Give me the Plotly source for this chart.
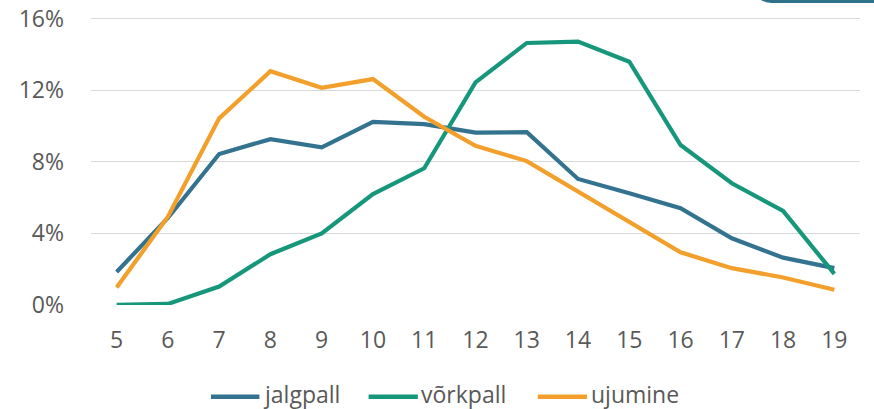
import plotly.graph_objects as go

# Age groups (x axis) and share of participants per sport (%)
ages = [str(a) for a in range(5, 20)]
jalgpall = [1.84, 4.86, 8.44, 9.27, 8.81, 10.24, 10.11, 9.63, 9.66, 7.04, 6.24, 5.40, 3.72, 2.64, 2.05]
vorkpall = [0.0, 0.05, 1.02, 2.83, 4.00, 6.20, 7.64, 12.44, 14.65, 14.73, 13.60, 8.94, 6.80, 5.25, 1.73]
ujumine = [0.97, 4.93, 10.43, 13.07, 12.14, 12.63, 10.52, 8.90, 8.04, 6.35, 4.65, 2.94, 2.05, 1.53, 0.84]

series_names = ["jalgpall", "võrkpall", "ujumine"]
series_values = [jalgpall, vorkpall, ujumine]
series_colors = ["#34738f", "#16977b", "#f2a02b"]

y_ticks = [0, 4, 8, 12, 16]
y_tick_labels = ["0%", "4%", "8%", "12%", "16%"]

TEXT = "#595959"
FONT = "Open Sans"
FSIZE = 23

fig = go.Figure()
for name, vals, col in zip(series_names, series_values, series_colors):
    fig.add_trace(go.Scatter(
        x=ages, y=vals, name=name, mode="lines",
        line=dict(color=col, width=4.2),
        cliponaxis=False, showlegend=False,
    ))

fig.update_layout(
    width=874, height=409,
    margin=dict(l=91, r=14, t=14, b=104),
    paper_bgcolor="white", plot_bgcolor="white",
    font=dict(family=FONT, color=TEXT, size=FSIZE),
    xaxis=dict(
        type="category", range=[-0.5, 14.5], automargin=False,
        showgrid=False, zeroline=False, showline=False,
        ticks="", ticklabelstandoff=19,
        tickfont=dict(size=FSIZE, color=TEXT),
    ),
    yaxis=dict(
        range=[-0.01, 16.27], tickvals=y_ticks, ticktext=y_tick_labels,
        automargin=False,
        showgrid=True, gridcolor="#d9d9d9", gridwidth=1.3,
        zeroline=False, showline=False, ticks="",
        ticklabelstandoff=26,
        tickfont=dict(size=FSIZE, color=TEXT),
    ),
)

# Legend drawn as short line keys plus labels below the plot
legend_keys = [(0.156, 0.219), (0.361, 0.425), (0.581, 0.645)]
key_y = -0.315
label_y = -0.306
for (x0, x1), name, col in zip(legend_keys, series_names, series_colors):
    fig.add_shape(type="line", xref="paper", yref="paper",
                  x0=x0, x1=x1, y0=key_y, y1=key_y,
                  line=dict(color=col, width=4.5))
    fig.add_annotation(xref="paper", yref="paper", x=x1 + 0.002, y=label_y,
                       text=name, showarrow=False, xanchor="left", yanchor="middle",
                       font=dict(size=FSIZE, color=TEXT, family=FONT))

# Dark rounded tab peeking in at the top-right corner
fig.add_shape(type="path", xref="paper", yref="paper",
              path="M 0.868,1.06 L 1.02,1.06 L 1.02,1.038 L 0.885,1.038 Q 0.872,1.038 0.868,1.06 Z",
              fillcolor="#2f708a", line=dict(width=0), layer="above")

fig.write_html("out.html")
